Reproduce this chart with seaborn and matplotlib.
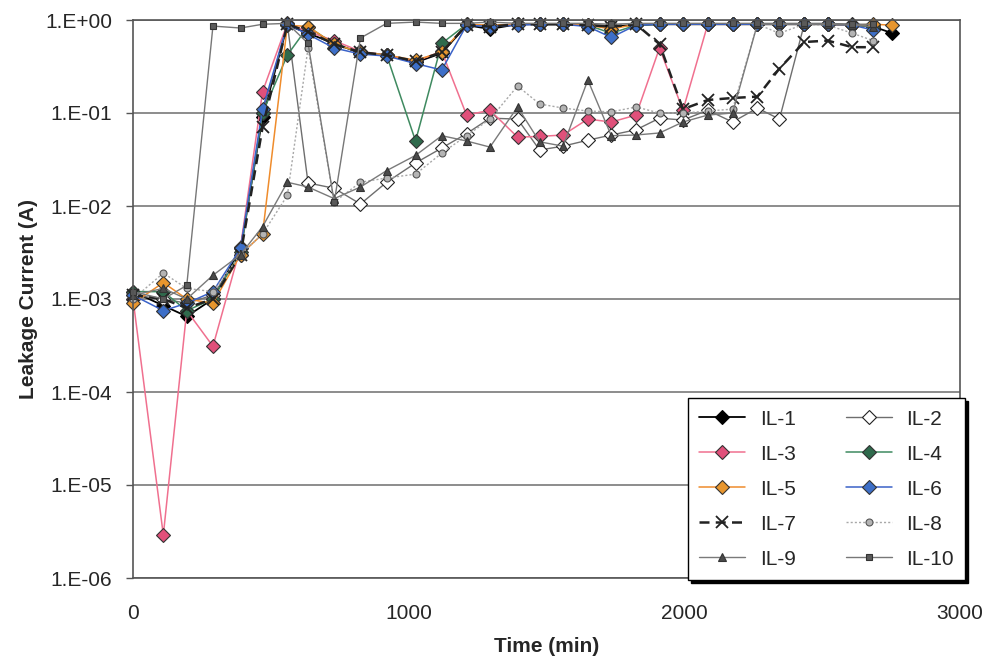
import numpy as np
import pandas as pd
import matplotlib
matplotlib.use("Agg")
import matplotlib.pyplot as plt
import seaborn as sns
from matplotlib.ticker import FixedLocator, FuncFormatter, NullLocator

nan = np.nan

# ---- data ----
TIME = [0, 110, 195, 290, 390, 470, 560, 635, 730, 825, 920, 1025, 1120, 1210, 1295, 1395,
        1475, 1560, 1650, 1735, 1825, 1910, 1995, 2085, 2175, 2265, 2345, 2435, 2520, 2610,
        2685, 2755]

IL1 = [1.2e-3, 8.5e-4, 6.5e-4, 1.0e-3, 3.5e-3, 0.09, 0.88, 0.72, 0.56, 0.44, 0.42, 0.35,
       0.44, 0.88, 0.80, 0.90, 0.90, 0.90, 0.88, 0.86, 0.88, 0.90, 0.90, 0.90, 0.90, 0.90,
       0.90, 0.90, 0.90, 0.88, 0.85, 0.72]
IL2 = [1.1e-3, 1.0e-3, 9.0e-4, 1.1e-3, 3.0e-3, 0.10, 0.90, 0.0177, 0.0155, 0.0105, 0.018,
       0.029, 0.042, 0.060, 0.088, 0.086, 0.040, 0.044, 0.051, 0.058, 0.066, 0.088, 0.084,
       0.107, 0.080, 0.113, 0.086, 0.90, 0.90, 0.90, 0.88, nan]
IL3 = [1.0e-3, 2.9e-6, 7.5e-4, 3.1e-4, 3.6e-3, 0.17, 0.92, 0.75, 0.60, 0.46, 0.42, 0.36,
       0.46, 0.095, 0.107, 0.055, 0.056, 0.058, 0.086, 0.080, 0.095, 0.50, 0.107, 0.90,
       0.90, 0.90, 0.90, 0.90, 0.90, 0.88, 0.88, nan]
IL4 = [1.2e-3, 1.2e-3, 7.5e-4, 1.0e-3, 3.2e-3, 0.10, 0.42, 0.85, 0.55, 0.45, 0.42, 0.05,
       0.56, 0.90, 0.85, 0.90, 0.90, 0.90, 0.88, 0.72, 0.88, 0.90, 0.90, 0.90, 0.90, 0.90,
       0.90, 0.90, 0.90, 0.88, 0.85, nan]
IL5 = [9.0e-4, 1.5e-3, 1.0e-3, 9.0e-4, 3.0e-3, 5.0e-3, 0.88, 0.85, 0.55, 0.45, 0.42, 0.37,
       0.45, 0.90, 0.88, 0.90, 0.90, 0.90, 0.88, 0.80, 0.90, 0.90, 0.90, 0.90, 0.90, 0.90,
       0.90, 0.90, 0.90, 0.88, 0.90, 0.88]
IL6 = [1.1e-3, 7.5e-4, 9.0e-4, 1.2e-3, 3.5e-3, 0.11, 0.90, 0.70, 0.50, 0.43, 0.41, 0.34,
       0.29, 0.88, 0.85, 0.88, 0.90, 0.90, 0.85, 0.65, 0.88, 0.90, 0.90, 0.90, 0.90, 0.90,
       0.90, 0.90, 0.90, 0.88, 0.78, nan]
IL7 = [1.1e-3, 1.0e-3, 8.0e-4, 1.0e-3, 3.0e-3, 0.07, 0.90, 0.75, 0.55, 0.45, 0.42, 0.36,
       0.45, 0.88, 0.85, 0.90, 0.90, 0.90, 0.88, 0.85, 0.90, 0.55, 0.11, 0.138, 0.145,
       0.15, 0.30, 0.58, 0.60, 0.51, 0.51, nan]
IL8 = [1.0e-3, 1.9e-3, 1.3e-3, 1.2e-3, 3.0e-3, 5.0e-3, 0.013, 0.50, 0.011, 0.018, 0.020,
       0.022, 0.037, 0.057, 0.086, 0.195, 0.125, 0.113, 0.105, 0.103, 0.116, 0.10, 0.10,
       0.105, 0.11, 0.90, 0.72, 0.90, 0.88, 0.72, 0.60, nan]
IL9 = [1.1e-3, 1.3e-3, 1.0e-3, 1.8e-3, 3.0e-3, 6.0e-3, 0.018, 0.016, 0.012, 0.016, 0.024,
       0.035, 0.057, 0.050, 0.043, 0.116, 0.049, 0.044, 0.226, 0.057, 0.058, 0.061, 0.080,
       0.095, 0.10, 0.90, 0.90, 0.90, 0.90, 0.88, 0.85, nan]
IL10 = [1.2e-3, 1.0e-3, 1.4e-3, 0.86, 0.82, 0.90, 0.92, 0.56, 0.011, 0.64, 0.92, 0.95, 0.92,
        0.92, 0.95, 0.92, 0.92, 0.92, 0.92, 0.90, 0.92, 0.92, 0.92, 0.92, 0.92, 0.92, 0.92,
        0.92, 0.92, 0.90, 0.90, nan]

SERIES = ["IL-1", "IL-2", "IL-3", "IL-4", "IL-5", "IL-6", "IL-7", "IL-8", "IL-9", "IL-10"]
VALUES = [IL1, IL2, IL3, IL4, IL5, IL6, IL7, IL8, IL9, IL10]

Y_TICKS = [1e-6, 1e-5, 1e-4, 1e-3, 1e-2, 1e-1, 1e0]
X_TICKS = [0, 1000, 2000, 3000]

# ---- styles ----
STYLES = {
    "IL-1": dict(color="#000000", linewidth=1.3, marker="D", markersize=6.8,
                 markerfacecolor="#000000", markeredgecolor="#000000"),
    "IL-2": dict(color="#6e6e6e", linewidth=1.0, marker="D", markersize=6.8,
                 markerfacecolor="#ffffff", markeredgecolor="#222222"),
    "IL-3": dict(color="#f0708f", linewidth=1.1, marker="D", markersize=6.8,
                 markerfacecolor="#e0507a", markeredgecolor="#333333"),
    "IL-4": dict(color="#3f8a60", linewidth=1.1, marker="D", markersize=6.8,
                 markerfacecolor="#2f6a4c", markeredgecolor="#333333"),
    "IL-5": dict(color="#ef8c2c", linewidth=1.1, marker="D", markersize=6.8,
                 markerfacecolor="#e8962e", markeredgecolor="#333333"),
    "IL-6": dict(color="#3a62c8", linewidth=1.1, marker="D", markersize=6.8,
                 markerfacecolor="#3d6fc8", markeredgecolor="#333333"),
    "IL-7": dict(color="#222222", linewidth=1.8, linestyle=(0, (4, 2.5)), marker="x",
                 markersize=8, markeredgewidth=1.3, markeredgecolor="#222222"),
    "IL-8": dict(color="#a8a8a8", linewidth=1.0, linestyle=(0, (1.5, 1.5)), marker="o",
                 markersize=5, markerfacecolor="#b4b4b4", markeredgecolor="#555555"),
    "IL-9": dict(color="#7a7a7a", linewidth=1.0, marker="^", markersize=5.5,
                 markerfacecolor="#4a4a4a", markeredgecolor="#333333"),
    "IL-10": dict(color="#777777", linewidth=1.0, marker="s", markersize=5,
                  markerfacecolor="#5a5a5a", markeredgecolor="#333333"),
}

sns.set_theme(style="white")
plt.rcParams['font.family'] = ['Liberation Sans', 'DejaVu Sans']

fig = plt.figure(figsize=(9.92, 6.64), dpi=100)
fig.patch.set_facecolor("white")
ax = fig.add_axes([133 / 992, 1 - 578 / 664, 827 / 992, 558 / 664])
ax.set_facecolor("white")

for name, vals in zip(SERIES, VALUES):
    df = pd.DataFrame({"Time": TIME, "Current": vals}).dropna()
    st = dict(STYLES[name])
    st.setdefault("markeredgewidth", 0.8)
    sns.lineplot(data=df, x="Time", y="Current", ax=ax, label=name, sort=False,
                 estimator=None, clip_on=False, **st)

ax.set_yscale("log")
ax.set_ylim(1e-6, 1.0)
ax.set_xlim(0, 3000)
ax.yaxis.set_major_locator(FixedLocator(Y_TICKS))
ax.yaxis.set_minor_locator(NullLocator())
ax.yaxis.set_major_formatter(FuncFormatter(
    lambda v, p: "1.E{:+03d}".format(int(round(np.log10(v))))))
ax.xaxis.set_major_locator(FixedLocator(X_TICKS))
ax.xaxis.set_major_formatter(FuncFormatter(lambda v, p: "{:d}".format(int(v))))

ax.yaxis.grid(True, color="#8c8c8c", linewidth=1.4)
ax.xaxis.grid(False)
ax.set_axisbelow(True)

for s in ax.spines.values():
    s.set_color("#555555")
    s.set_linewidth(1.2)
    s.set_visible(True)

ax.tick_params(axis="y", which="major", direction="out", length=5, width=1,
               color="#555555", labelsize=15, pad=10, left=True)
ax.tick_params(axis="x", which="major", direction="out", length=0, width=1,
               color="#555555", labelsize=15, pad=19, bottom=True)

ax.set_xlabel("Time (min)", fontsize=15, fontweight="bold", labelpad=10)
ax.set_ylabel("Leakage Current (A)", fontsize=15, fontweight="bold", labelpad=5)

handles, labels = ax.get_legend_handles_labels()
order = [0, 2, 4, 6, 8, 1, 3, 5, 7, 9]
leg = ax.legend([handles[i] for i in order], [labels[i] for i in order], ncol=2,
                loc="lower left", bbox_to_anchor=(0.671, -0.004), borderaxespad=0,
                fontsize=15, frameon=True, fancybox=False, framealpha=1,
                edgecolor="#000000", handlelength=2.2, handletextpad=0.7,
                columnspacing=2.4, labelspacing=0.77, borderpad=0.55,
                shadow={"color": "black", "alpha": 1.0})
leg.get_frame().set_linewidth(1.0)
leg.set_zorder(20)

fig.savefig("out.png", dpi=100, facecolor="white")
